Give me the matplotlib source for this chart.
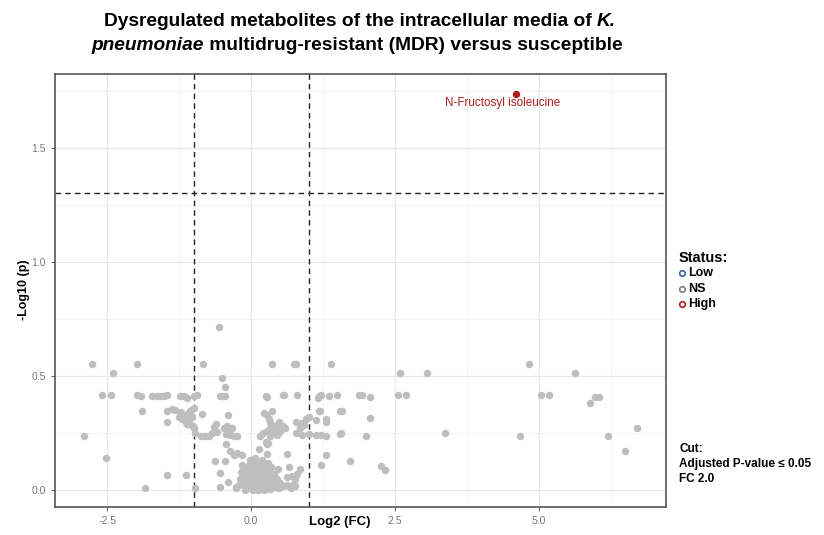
import matplotlib
matplotlib.use("Agg")
import matplotlib.pyplot as plt
from matplotlib.lines import Line2D

plt.rcParams['font.family'] = ['Liberation Sans', 'DejaVu Sans']

# 유의하지 않은(NS) 대사체: log2 fold change, -log10 p
ns_log2fc = [
    -2.91, -2.77, -2.60, -2.44, -2.40, -2.52, -1.84, -1.98, -1.98, -1.92, -1.90,
    -1.72, -1.63, -1.57, -1.51, -1.46, -1.46, -1.46, -1.46, -1.37, -1.32,
    -1.23, -1.17, -1.11, -0.99, -0.94, -1.13, -0.98,
    -1.26, -1.20, -1.17, -1.11, -1.08, -1.05, -1.00, -1.02, -0.98, -1.00,
    -1.09, -1.14, -1.06, -1.22, -1.03,
    -0.83, -0.85, -0.88, -0.80, -0.73, -0.68, -0.65, -0.62, -0.59,
    -0.565, -0.51, -0.45, -0.54, -0.50, -0.45, -0.40,
    -0.48, -0.42, -0.39, -0.36, -0.30, -0.24, -0.34, -0.43,
    -0.43, -0.36, -0.30, -0.24, -0.16,
    -0.63, -0.45, -0.54, -0.40, -0.54, -0.26,
    0.14, 0.27, 0.62, 0.66, 0.77, 0.80, 0.84, 0.63, 0.71,
    0.55, 0.66, 0.77,
    0.37, 0.74, 0.78, 0.27, 0.57, 0.79, 0.55, 0.26,
    0.36, 0.27, 0.23, 0.33,
    0.16, 0.21, 0.27, 0.33, 0.39, 0.45, 0.50, 0.56, 0.59, 0.39, 0.33, 0.45,
    0.48, 0.31, 0.49,
    0.28, 0.26, 0.29,
    0.78, 0.87, 0.95, 1.13, 1.30, 0.78, 0.89, 1.01, 1.13, 1.21, 1.30, 1.01,
    0.84, 0.92,
    1.17, 1.21, 1.35, 1.49, 1.16, 1.38, 1.19, 1.30, 1.57, 1.56, 1.30, 1.21,
    1.72, 1.87, 1.55, 1.55, 1.18,
    1.93, 2.07, 2.07, 2.00, 2.25, 2.32, 2.58, 3.06, 2.56, 2.69, 3.37,
    4.68, 4.83, 5.03, 5.17, 5.63, 5.89, 5.97, 6.05, 6.20, 6.50, 6.70,
    -0.27, -0.22, -0.20, -0.18, -0.16, -0.14, -0.12, -0.10, -0.09, -0.07,
    -0.06, -0.04, -0.03, -0.01, 0.00, 0.01, 0.02, 0.03, 0.04, 0.05, 0.06,
    0.07, 0.08, 0.09, 0.10, 0.11, 0.12, 0.13, 0.14, 0.15, 0.16, 0.17, 0.18,
    0.19, 0.20, 0.21, 0.22, 0.23, 0.24, 0.25, 0.26, 0.27, 0.28, 0.29, 0.30,
    0.31, 0.32, 0.33, 0.34, 0.35, 0.36, 0.38, 0.40, 0.42, 0.44, 0.46, 0.48,
    0.50, -0.02, 0.06, 0.18, 0.30, 0.12, 0.22, -0.11, 0.04,
    0.62, 0.70, 0.75,
]
ns_neglog10p = [
    0.235, 0.553, 0.415, 0.415, 0.515, 0.14, 0.007, 0.553, 0.415, 0.41, 0.345,
    0.41, 0.41, 0.41, 0.41, 0.415, 0.297, 0.065, 0.345, 0.357, 0.352,
    0.41, 0.41, 0.405, 0.41, 0.415, 0.065, 0.007,
    0.32, 0.31, 0.33, 0.29, 0.34, 0.35, 0.36, 0.28, 0.25, 0.27,
    0.31, 0.30, 0.29, 0.34, 0.32,
    0.553, 0.335, 0.235, 0.235, 0.235, 0.25, 0.275, 0.29, 0.255,
    0.715, 0.49, 0.45, 0.41, 0.41, 0.41, 0.33,
    0.27, 0.28, 0.255, 0.24, 0.235, 0.235, 0.27, 0.245,
    0.20, 0.17, 0.155, 0.16, 0.155,
    0.125, 0.125, 0.073, 0.034, 0.012, 0.007,
    0.18, 0.156, 0.156, 0.10, 0.05, 0.07, 0.09, 0.055, 0.06,
    0.015, 0.015, 0.018,
    0.553, 0.553, 0.553, 0.406, 0.415, 0.415, 0.417, 0.41,
    0.345, 0.33, 0.336, 0.30,
    0.235, 0.25, 0.26, 0.27, 0.28, 0.275, 0.26, 0.28, 0.27, 0.25, 0.235, 0.24,
    0.255, 0.31, 0.30,
    0.20, 0.21, 0.205,
    0.30, 0.295, 0.31, 0.305, 0.31, 0.25, 0.24, 0.245, 0.24, 0.24, 0.235, 0.32,
    0.27, 0.285,
    0.41, 0.415, 0.41, 0.415, 0.405, 0.553, 0.345, 0.297, 0.345, 0.25, 0.151, 0.11,
    0.125, 0.415, 0.246, 0.346, 0.346,
    0.415, 0.406, 0.316, 0.235, 0.104, 0.088, 0.515, 0.515, 0.415, 0.415, 0.25,
    0.235, 0.553, 0.415, 0.415, 0.515, 0.382, 0.406, 0.406, 0.235, 0.169, 0.27,
    0.012, 0.02, 0.05, 0.08, 0.11, 0.03, 0.06, 0.095, 0.01, 0.04,
    0.07, 0.11, 0.02, 0.055, 0.085, 0.005, 0.035, 0.065, 0.10, 0.015, 0.045,
    0.075, 0.12, 0.005, 0.03, 0.06, 0.09, 0.015, 0.045, 0.075, 0.105, 0.005, 0.03,
    0.06, 0.09, 0.02, 0.05, 0.08, 0.11, 0.005, 0.035, 0.065, 0.095, 0.015, 0.045,
    0.075, 0.005, 0.03, 0.06, 0.10, 0.012, 0.04, 0.07, 0.012, 0.05, 0.09, 0.01,
    0.03, 0.13, 0.14, 0.13, 0.12, 0.0, 0.0, 0.0, 0.0,
    0.02, 0.01, 0.025,
]

# 유의한(High) 대사체
high_log2fc = [4.60]
high_neglog10p = [1.737]
high_labels = ['N-Fructosyl isoleucine']

# 기준선
fc_cut = 1.0         # log2(2.0)
p_cut = 1.30103      # -log10(0.05)

x_ticks = [-2.5, 0.0, 2.5, 5.0]
x_ticklabels = ['-2.5', '0.0', '2.5', '5.0']
y_ticks = [0.0, 0.5, 1.0, 1.5]
y_ticklabels = ['0.0', '0.5', '1.0', '1.5']

status_labels = ['Low', 'NS', 'High']
status_colors = ['#3d62a8', '#7f7f7f', '#b01c1c']
cut_lines = ['Cut:', 'Adjusted P-value \u2264 0.05', 'FC 2.0']

fig = plt.figure(figsize=(8.24, 5.35), dpi=100)
ax = fig.add_axes([55 / 824, 1 - 507 / 535, 611 / 824, 433 / 535])

# 격자 (ggplot theme_bw 느낌)
for v in [-3.75, -1.25, 1.25, 3.75, 6.25]:
    ax.axvline(v, color='#f3f3f3', lw=0.6, zorder=0)
for v in [0.25, 0.75, 1.25, 1.75]:
    ax.axhline(v, color='#f3f3f3', lw=0.6, zorder=0)
for v in x_ticks:
    ax.axvline(v, color='#e8e8e8', lw=0.9, zorder=0)
for v in y_ticks:
    ax.axhline(v, color='#e8e8e8', lw=0.9, zorder=0)

ax.scatter(ns_log2fc, ns_neglog10p, s=29, color='#bebebe', linewidths=0, zorder=2)
ax.scatter(high_log2fc, high_neglog10p, s=28, color='#b01c1c', linewidths=0, zorder=3)
for xv, yv, lab in zip(high_log2fc, high_neglog10p, high_labels):
    ax.annotate(lab, (xv, yv), xytext=(-13, -9), textcoords='offset pixels',
                ha='center', va='center', color='#b01c1c', fontsize=8.4,
                family=['Liberation Sans Narrow', 'Liberation Sans'])

ax.axvline(-fc_cut, color='#222222', lw=1.0, ls=(0, (4, 3)), zorder=1)
ax.axvline(fc_cut, color='#222222', lw=1.0, ls=(0, (4, 3)), zorder=1)
ax.axhline(p_cut, color='#222222', lw=1.0, ls=(0, (4, 3)), zorder=1)

ax.set_xlim(-3.41, 7.21)
ax.set_ylim(-0.075, 1.825)
ax.set_xticks(x_ticks)
ax.set_xticklabels(x_ticklabels)
ax.set_yticks(y_ticks)
ax.set_yticklabels(y_ticklabels)
ax.tick_params(colors='#666666', labelcolor='#777777', labelsize=7.5, length=3, width=0.8)
for sp in ax.spines.values():
    sp.set_color('#555555')
    sp.set_linewidth(1.2)

fig.text(340 / 824, 1 - 522 / 535, 'Log2 (FC)', ha='center', va='center',
         fontsize=9.5, fontweight='bold')
fig.text(24 / 824, 1 - 290 / 535, '-Log10 (p)', ha='center', va='center',
         rotation=90, fontsize=9, fontweight='bold')

# 제목: 굵은 글씨 + 기울임 부분을 이어 붙임
renderer = fig.canvas.get_renderer()


def draw_runs(runs, cx, cy, size):
    texts = []
    for s, style in runs:
        t = fig.text(0, cy, s, fontsize=size, fontweight='bold', fontstyle=style,
                     va='center', ha='left')
        texts.append(t)
    widths = [t.get_window_extent(renderer).width for t in texts]
    total = sum(widths)
    x0 = cx * fig.bbox.width - total / 2
    for t, w in zip(texts, widths):
        t.set_x(x0 / fig.bbox.width)
        x0 += w


draw_runs([('Dysregulated metabolites of the intracellular media of ', 'normal'),
           ('K.', 'italic')], 360 / 824, 1 - 21 / 535, 13.8)
draw_runs([('pneumoniae', 'italic'),
           (' multidrug-resistant (MDR) versus susceptible', 'normal')],
          357 / 824, 1 - 45 / 535, 13.8)

# 범례
fig.text(679 / 824, 1 - 258 / 535, 'Status:', fontsize=10.5, fontweight='bold',
         va='center', ha='left')
for i, (lab, col) in enumerate(zip(status_labels, status_colors)):
    yy = 1 - (273 + i * 15.5) / 535
    fig.add_artist(Line2D([682 / 824], [yy], marker='o', markersize=4,
                          markerfacecolor='none', markeredgecolor=col,
                          markeredgewidth=1.2, transform=fig.transFigure))
    fig.text(688 / 824, yy, lab, fontsize=9, fontweight='bold', va='center', ha='left')

for i, line in enumerate(cut_lines):
    fig.text(679 / 824, 1 - (449 + i * 15) / 535, line, fontsize=8.5,
             fontweight='bold', va='center', ha='left')

fig.savefig('out.png', dpi=100)
